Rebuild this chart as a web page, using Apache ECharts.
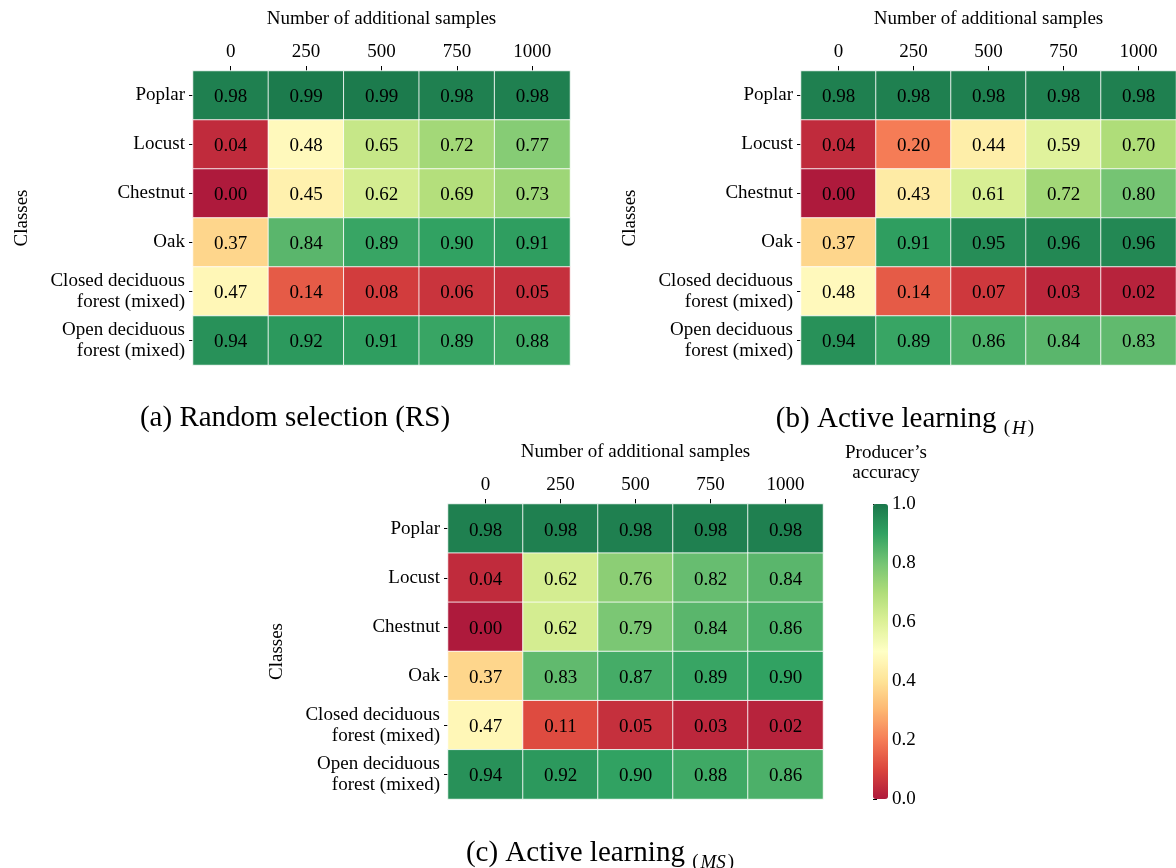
<!DOCTYPE html>
<html><head><meta charset="utf-8">
<script src="https://cdn.jsdelivr.net/npm/echarts@6/dist/echarts.min.js"></script>
<style>html,body{margin:0;padding:0;background:#fff}#c{width:1176px;height:868px}</style>
</head><body><div id="c"></div>
<script>
const sampleLabels = ['0', '250', '500', '750', '1000'];
const classNames = ['Poplar', 'Locust', 'Chestnut', 'Oak', 'Closed deciduous\nforest (mixed)', 'Open deciduous\nforest (mixed)'];
const randomSelection = [
  [0.98, 0.99, 0.99, 0.98, 0.98],
  [0.04, 0.48, 0.65, 0.72, 0.77],
  [0.00, 0.45, 0.62, 0.69, 0.73],
  [0.37, 0.84, 0.89, 0.90, 0.91],
  [0.47, 0.14, 0.08, 0.06, 0.05],
  [0.94, 0.92, 0.91, 0.89, 0.88]
];
const activeH = [
  [0.98, 0.98, 0.98, 0.98, 0.98],
  [0.04, 0.20, 0.44, 0.59, 0.70],
  [0.00, 0.43, 0.61, 0.72, 0.80],
  [0.37, 0.91, 0.95, 0.96, 0.96],
  [0.48, 0.14, 0.07, 0.03, 0.02],
  [0.94, 0.89, 0.86, 0.84, 0.83]
];
const activeMS = [
  [0.98, 0.98, 0.98, 0.98, 0.98],
  [0.04, 0.62, 0.76, 0.82, 0.84],
  [0.00, 0.62, 0.79, 0.84, 0.86],
  [0.37, 0.83, 0.87, 0.89, 0.90],
  [0.47, 0.11, 0.05, 0.03, 0.02],
  [0.94, 0.92, 0.90, 0.88, 0.86]
];
const colorbarTicks = [0, 0.2, 0.4, 0.6, 0.8, 1.0];
// RdYlGn blended with white at alpha 0.9
const rdylgn = ['#a50026','#d73027','#f46d43','#fdae61','#fee08b','#ffffbf','#d9ef8b','#a6d96a','#66bd63','#1a9850','#006837'];
function blend(hex) {
  const n = parseInt(hex.slice(1), 16);
  const r = (n >> 16) & 255, g = (n >> 8) & 255, b = n & 255;
  const f = v => Math.round(v * 0.9 + 25.5);
  return 'rgb(' + f(r) + ',' + f(g) + ',' + f(b) + ')';
}
const palette = rdylgn.map(blend);

const FONT = 'Liberation Serif';
const FS = 19;
const CAP = 29;

function toCells(m) {
  const out = [];
  m.forEach((row, r) => row.forEach((v, c) => out.push([c, r, v])));
  return out;
}

const grids = [
  {left: 193, top: 71, width: 377, height: 294},
  {left: 801, top: 71, width: 378, height: 294},
  {left: 448, top: 504, width: 375, height: 295},
  {left: 873, top: 504, width: 15, height: 295}
];

function xAx(i) {
  return {
    type: 'category', gridIndex: i, data: sampleLabels, position: 'top',
    name: 'Number of additional samples', nameLocation: 'middle', nameGap: 42,
    nameTextStyle: {fontFamily: FONT, fontSize: FS, color: '#000'},
    axisLine: {show: false},
    axisTick: {show: true, alignWithLabel: true, length: 5, lineStyle: {color: '#000'}},
    axisLabel: {fontFamily: FONT, fontSize: FS, color: '#000', margin: 9},
    splitLine: {show: false}
  };
}
function yAx(i) {
  return {
    type: 'category', gridIndex: i, data: classNames, inverse: true,
    name: 'Classes', nameLocation: 'middle', nameGap: 161, nameRotate: 90,
    nameTextStyle: {fontFamily: FONT, fontSize: FS, color: '#000'},
    axisLine: {show: false},
    axisTick: {show: true, alignWithLabel: true, length: 4, lineStyle: {color: '#000'}},
    axisLabel: {fontFamily: FONT, fontSize: FS, color: '#000', margin: 8, lineHeight: 21, align: 'right', padding: [4, 0, 0, 0]},
    splitLine: {show: false}
  };
}
function hm(i, m) {
  return {
    type: 'heatmap', xAxisIndex: i, yAxisIndex: i, data: toCells(m),
    label: {show: true, fontFamily: FONT, fontSize: FS, color: '#000', offset: [0, 2],
      formatter: p => p.value[2].toFixed(2)},
    itemStyle: {borderColor: 'rgba(255,255,255,0.85)', borderWidth: 1},
    emphasis: {disabled: true}
  };
}
function capRich() {
  return {
    m: {fontFamily: FONT, fontSize: CAP, lineHeight: 38, verticalAlign: 'middle'},
    s: {fontFamily: FONT, fontSize: 19, lineHeight: 38, verticalAlign: 'bottom'},
    i: {fontFamily: FONT, fontSize: 19, fontStyle: 'italic', lineHeight: 38, verticalAlign: 'bottom', padding: [0, 2, 0, 2]}
  };
}

const option = {
  animation: false,
  backgroundColor: '#fff',
  grid: grids,
  xAxis: [xAx(0), xAx(1), xAx(2),
    {type: 'value', gridIndex: 3, show: false, min: 0, max: 1}],
  yAxis: [yAx(0), yAx(1), yAx(2),
    {type: 'value', gridIndex: 3, min: 0, max: 1, interval: 0.2, position: 'right',
     axisLine: {show: false}, splitLine: {show: false},
     axisTick: {show: true, length: 4, lineStyle: {color: '#000'}},
     axisLabel: {fontFamily: FONT, fontSize: FS, color: '#000', margin: 4,
       formatter: v => colorbarTicks.indexOf(Math.round(v * 10) / 10) >= 0 ? v.toFixed(1) : ''}}],
  visualMap: {
    type: 'continuous', min: 0, max: 1, seriesIndex: [0, 1, 2],
    left: 873, top: 504, itemWidth: 15, itemHeight: 295, padding: 0,
    calculable: false, text: null, showLabel: false,
    inRange: {color: palette}
  },
  title: [
    {text: '(a) Random selection (RS)', left: 290, top: 399, textAlign: 'center',
     textStyle: {fontFamily: FONT, fontSize: CAP, fontWeight: 'normal', color: '#000'}},
    {text: '{m|(b) Active learning }{s|(}{i|H}{s|)}', left: 900, top: 395, textAlign: 'center',
     textStyle: {fontFamily: FONT, fontSize: CAP, fontWeight: 'normal', color: '#000', rich: capRich()}},
    {text: '{m|(c) Active learning }{s|(}{i|MS}{s|)}', left: 595, top: 829, textAlign: 'center',
     textStyle: {fontFamily: FONT, fontSize: CAP, fontWeight: 'normal', color: '#000', rich: capRich()}},
    {text: 'Producer\u2019s\naccuracy', left: 881, top: 438, textAlign: 'center',
     textStyle: {fontFamily: FONT, fontSize: FS, fontWeight: 'normal', color: '#000', lineHeight: 20, align: 'center'}}
  ],
  series: [hm(0, randomSelection), hm(1, activeH), hm(2, activeMS),
    {type: 'scatter', xAxisIndex: 3, yAxisIndex: 3, data: [], silent: true}]
};
const chart = echarts.init(document.getElementById('c'), null, {renderer: 'canvas'});
chart.setOption(option);
</script></body></html>
